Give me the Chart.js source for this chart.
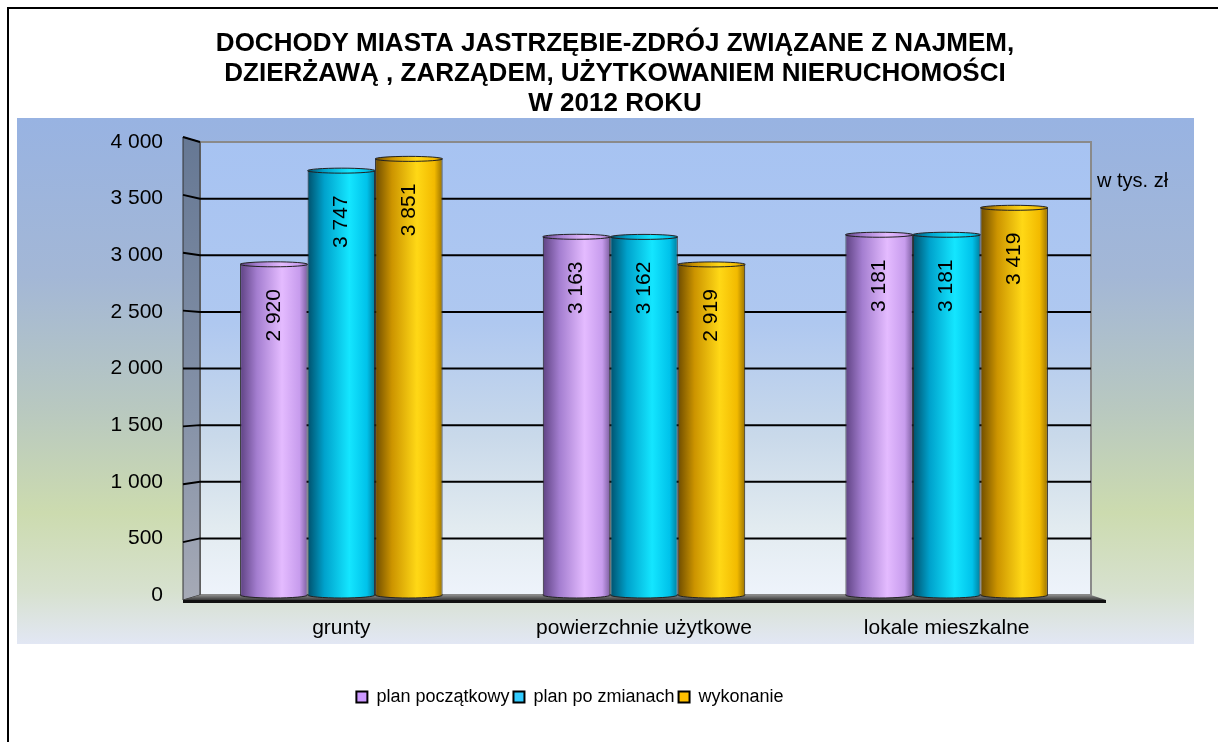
<!DOCTYPE html>
<html lang="pl">
<head>
<meta charset="utf-8">
<title>Dochody miasta Jastrzębie-Zdrój 2012</title>
<script src="https://cdn.jsdelivr.net/npm/chart.js@4.4.1/dist/chart.umd.min.js"></script>
<style>
  html, body { margin: 0; padding: 0; background: #fff; }
  canvas { display: block; }
</style>
</head>
<body>
<canvas id="chart" width="1218" height="742"></canvas>
<script>
const titleLines = [
    "DOCHODY MIASTA JASTRZĘBIE-ZDRÓJ ZWIĄZANE Z NAJMEM,",
    "DZIERŻAWĄ , ZARZĄDEM, UŻYTKOWANIEM NIERUCHOMOŚCI",
    "W 2012 ROKU",
];
const unitLabel = "w tys. zł";
const categories = ["grunty", "powierzchnie użytkowe", "lokale mieszkalne"];
const seriesNames = ["plan początkowy", "plan po zmianach", "wykonanie"];
const planPoczatkowy = [2920, 3163, 3181];
const planPoZmianach = [3747, 3162, 3181];
const wykonanie = [3851, 2919, 3419];
const yTicks = [0, 500, 1000, 1500, 2000, 2500, 3000, 3500, 4000];

// cylinder shading: dark edge, body, highlight, body, edge
const shades = [
    ["#5e4282", "#a47ed0", "#e4bbff", "#c79ced", "#7c5ea0"],
    ["#00506c", "#00a2cc", "#14e6ff", "#00c2ea", "#007e9e"],
    ["#6e4c00", "#cc9400", "#ffd816", "#f2ba00", "#9a7200"],
];
const legendColors = ["#cc99ff", "#33ccff", "#ffc000"];
const catPct = 0.669;

Chart.defaults.font.family = '"Liberation Sans", Arial, sans-serif';
Chart.defaults.color = "#000";

const fmt = v => String(v).replace(/\B(?=(\d{3})+(?!\d))/g, " ");

function cylinderFill(context) {
    const i = context.datasetIndex;
    const colors = shades[i];
    const chart = context.chart;
    const x = chart.scales.x;
    if (context.type !== "data" || !x || !chart.chartArea) return colors[2];
    const group = (x.width / categories.length) * catPct;
    const w = group / seriesNames.length;
    const left = x.getPixelForValue(context.dataIndex) - group / 2 + i * w;
    const g = chart.ctx.createLinearGradient(left, 0, left + w, 0);
    g.addColorStop(0, colors[0]);
    g.addColorStop(0.25, colors[1]);
    g.addColorStop(0.62, colors[2]);
    g.addColorStop(0.88, colors[3]);
    g.addColorStop(1, colors[4]);
    return g;
}

const scenery = {
    id: "scenery",
    afterLayout(chart) {
        // the title in the original sits a bit right of the legend
        chart.titleBlock.left += 45;
        chart.titleBlock.right += 45;
    },
    beforeDraw(chart) {
        const {ctx} = chart;
        ctx.save();
        ctx.fillStyle = "#fff";
        ctx.fillRect(0, 0, chart.width, chart.height);

        const bg = ctx.createLinearGradient(0, 118, 0, 644);
        bg.addColorStop(0, "#98b3e2");
        bg.addColorStop(0.3, "#a3b7d6");
        bg.addColorStop(0.55, "#b8c8c0");
        bg.addColorStop(0.75, "#ccdbaf");
        bg.addColorStop(0.9, "#d7e1cf");
        bg.addColorStop(1, "#e2e7f4");
        ctx.fillStyle = bg;
        ctx.fillRect(17, 118, 1177, 526);

        ctx.strokeStyle = "#000";
        ctx.lineWidth = 2;
        ctx.beginPath();
        ctx.moveTo(8, chart.height);
        ctx.lineTo(8, 8);
        ctx.lineTo(chart.width, 8);
        ctx.stroke();
        ctx.restore();
    },
    beforeDatasetsDraw(chart) {
        const {ctx, chartArea: a, scales: {y}} = chart;
        const wallL = a.left + 10, wallR = a.right - 7, sideL = a.left - 7;
        const frontTop = a.top - 5, frontBot = a.bottom + 5;
        const front = v => frontBot + (y.getPixelForValue(v) - a.bottom) * (frontBot - frontTop) / (a.bottom - a.top);
        ctx.save();

        // back wall
        const wall = ctx.createLinearGradient(0, a.top, 0, a.bottom);
        wall.addColorStop(0, "#a7c3f2");
        wall.addColorStop(0.4, "#afc8f0");
        wall.addColorStop(0.65, "#c9d9ea");
        wall.addColorStop(0.85, "#e2ebf0");
        wall.addColorStop(1, "#eef3fb");
        ctx.fillStyle = wall;
        ctx.fillRect(wallL, a.top, wallR - wallL, a.bottom - a.top);
        ctx.strokeStyle = "#8a8a8a";
        ctx.lineWidth = 2;
        ctx.strokeRect(wallL, a.top, wallR - wallL, a.bottom - a.top);

        // side wall
        const side = ctx.createLinearGradient(0, frontTop, 0, frontBot);
        side.addColorStop(0, "#667894");
        side.addColorStop(0.6, "#8592a8");
        side.addColorStop(1, "#a6aab6");
        ctx.fillStyle = side;
        ctx.beginPath();
        ctx.moveTo(sideL, frontTop);
        ctx.lineTo(wallL, a.top);
        ctx.lineTo(wallL, a.bottom);
        ctx.lineTo(sideL, frontBot);
        ctx.closePath();
        ctx.fill();
        ctx.strokeStyle = "#333";
        ctx.lineWidth = 1;
        ctx.stroke();

        // gridlines
        ctx.strokeStyle = "#000";
        ctx.lineWidth = 2;
        yTicks.forEach(v => {
            if (v === 0) return;
            const py = y.getPixelForValue(v);
            ctx.beginPath();
            ctx.moveTo(sideL, front(v));
            ctx.lineTo(wallL, py);
            if (v < 4000) ctx.lineTo(wallR, py);
            ctx.stroke();
        });

        // floor
        const floor = ctx.createLinearGradient(0, a.bottom, 0, frontBot);
        floor.addColorStop(0, "#8c8c8c");
        floor.addColorStop(1, "#3a3a3a");
        ctx.fillStyle = floor;
        ctx.beginPath();
        ctx.moveTo(sideL, frontBot);
        ctx.lineTo(wallL, a.bottom);
        ctx.lineTo(wallR, a.bottom);
        ctx.lineTo(wallR + 15, frontBot);
        ctx.closePath();
        ctx.fill();
        ctx.fillStyle = "#111";
        ctx.fillRect(sideL, frontBot, wallR + 15 - sideL, 3);

        ctx.fillStyle = "#000";
        ctx.font = '20px "Liberation Sans", Arial, sans-serif';
        ctx.textAlign = "left";
        ctx.textBaseline = "middle";
        ctx.fillText(unitLabel, wallR + 6, y.getPixelForValue(3650));
        ctx.restore();
    },
    afterDatasetsDraw(chart) {
        const {ctx} = chart;
        ctx.save();
        chart.data.datasets.forEach((ds, i) => {
            chart.getDatasetMeta(i).data.forEach((bar, j) => {
                const rx = bar.width / 2;
                ctx.fillStyle = bar.options.backgroundColor;
                ctx.strokeStyle = "#222";
                ctx.lineWidth = 1;
                ctx.beginPath();
                ctx.ellipse(bar.x, bar.base, rx, 3, 0, 0, Math.PI);
                ctx.fill();
                ctx.stroke();
                ctx.beginPath();
                ctx.ellipse(bar.x, bar.y, rx, 2.5, 0, 0, Math.PI * 2);
                ctx.fill();
                ctx.stroke();

                ctx.save();
                ctx.translate(bar.x, bar.y + 51);
                ctx.rotate(-Math.PI / 2);
                ctx.fillStyle = "#000";
                ctx.font = '21px "Liberation Sans", Arial, sans-serif';
                ctx.textAlign = "center";
                ctx.textBaseline = "middle";
                ctx.fillText(fmt(ds.data[j]), 0, 0);
                ctx.restore();
            });
        });
        ctx.restore();
    },
};

const barStyle = {
    backgroundColor: cylinderFill,
    borderColor: "#222",
    borderWidth: 1,
    borderSkipped: "start",
    barPercentage: 1,
    categoryPercentage: catPct,
};

new Chart(document.getElementById("chart"), {
    type: "bar",
    data: {
        labels: categories,
        datasets: [
            {label: seriesNames[0], data: planPoczatkowy, ...barStyle},
            {label: seriesNames[1], data: planPoZmianach, ...barStyle},
            {label: seriesNames[2], data: wykonanie, ...barStyle},
        ],
    },
    options: {
        responsive: false,
        animation: false,
        layout: {padding: {left: 42, right: 120, top: 0, bottom: 26}},
        scales: {
            x: {
                grid: {display: false, drawTicks: false},
                border: {display: false},
                ticks: {font: {size: 21}, padding: 21},
                afterFit: s => { s.height = 89; },
            },
            y: {
                min: 0,
                max: 4000,
                grid: {display: false, drawTicks: false},
                border: {display: false},
                ticks: {font: {size: 21}, padding: 27, callback: v => fmt(v)},
                afterBuildTicks: s => { s.ticks = yTicks.map(v => ({value: v})); },
                afterFit: s => { s.width = 148; },
            },
        },
        plugins: {
            title: {
                display: true,
                text: titleLines,
                color: "#000",
                font: {size: 26, weight: "bold", lineHeight: 30 / 26},
                padding: {top: 29, bottom: 23},
            },
            legend: {
                position: "bottom",
                labels: {
                    font: {size: 18},
                    boxWidth: 11,
                    boxHeight: 11,
                    padding: 4,
                    color: "#000",
                    generateLabels: chart => chart.data.datasets.map((ds, i) => ({
                        text: ds.label,
                        fillStyle: legendColors[i],
                        strokeStyle: "#000",
                        lineWidth: 2,
                        datasetIndex: i,
                        hidden: false,
                    })),
                },
            },
            tooltip: {enabled: false},
        },
    },
    plugins: [scenery],
});
</script>
</body>
</html>
